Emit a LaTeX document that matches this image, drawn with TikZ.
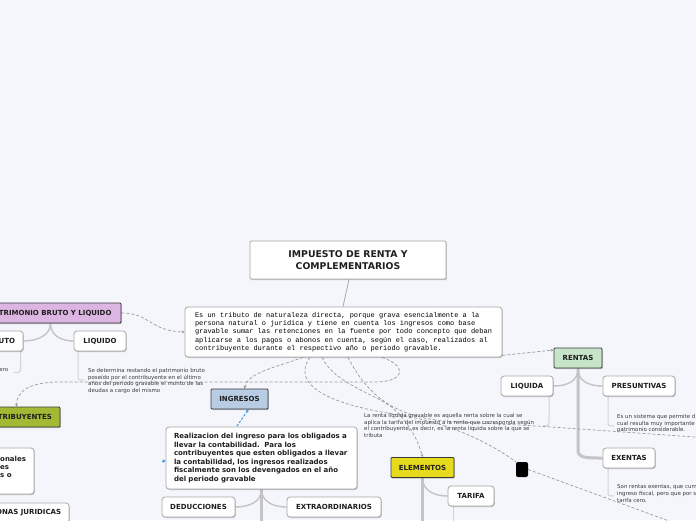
\documentclass[tikz,border=0pt]{standalone}
\usepackage{fontspec}
\setmainfont{DejaVu Sans}
\newfontfamily\monof{Liberation Mono}
\usetikzlibrary{arrows.meta,shadows}
\definecolor{bgc}{HTML}{F4F6FB}
\definecolor{boxgray}{HTML}{A8A8A8}
\definecolor{darkb}{HTML}{3A3A3A}
\definecolor{txt}{HTML}{1E1E1E}
\definecolor{notec}{HTML}{3A3A3A}
\definecolor{treeg}{HTML}{C4C4C4}
\definecolor{stemg}{HTML}{D2D2D2}
\definecolor{dashg}{HTML}{9A9A9A}
\definecolor{bluel}{HTML}{3D8EE0}
\definecolor{patrc}{HTML}{DDB5E2}
\definecolor{contc}{HTML}{A3B934}
\definecolor{ingc}{HTML}{B8CCE4}
\definecolor{rentc}{HTML}{C6E4C8}
\definecolor{elemc}{HTML}{E6DA1C}
\newcommand\lblfont{\bfseries\fontsize{7}{8.5}\selectfont}
\newcommand\notefont{\fontsize{5.45}{6.8}\selectfont}
\pgfdeclarelayer{back}
\pgfdeclarelayer{edges}
\pgfsetlayers{back,edges,main}
\begin{document}
\begin{tikzpicture}[x=1pt,y=-1pt,
  shad/.style={drop shadow={shadow xshift=0.8pt,shadow yshift=-1pt,opacity=0.22,fill=black}},
  box/.style={draw=boxgray,fill=white,rounded corners=3pt,line width=0.8pt,inner sep=0pt,font=\lblfont,text=txt,shad},
  tbox/.style={draw=boxgray,fill=white,rounded corners=1.2pt,line width=0.8pt,inner sep=0pt,align=center,font=\bfseries\fontsize{9.3}{11.5}\selectfont,text=txt,shad},
  cbox/.style={draw=darkb,rounded corners=1pt,line width=0.9pt,inner sep=0pt,font=\lblfont,text=txt,shad},
  note/.style={font=\notefont,text=notec,align=left,inner sep=0pt},
  branch/.style={draw=treeg,line width=1.4pt},
  trunk/.style={draw=treeg,line width=3pt},
  stem/.style={draw=stemg,line width=1pt},
  dlink/.style={draw=dashg,dash pattern=on 3pt off 2pt,line width=0.7pt},
  bdash/.style={draw=bluel,dash pattern=on 2.5pt off 1.5pt,line width=0.9pt},
  tip/.style={-{Stealth[length=3pt,width=3pt]}}
]
\begin{pgfonlayer}{back}
\fill[bgc] (0,0) rectangle (696,520);
\end{pgfonlayer}
\useasboundingbox (0,0) rectangle (696,520);
\clip (0,0) rectangle (696,520);

% ---------- nodes ----------
\node[tbox,minimum width=196pt,minimum height=38pt] (title) at (348,260) {IMPUESTO DE RENTA Y\\COMPLEMENTARIOS};
\node[box,minimum width=317pt,minimum height=50pt,inner xsep=9pt,align=left,text=black,
      font=\monof\fontsize{6.97}{8.33}\selectfont] (main) at (343.5,332)
 {Es un tributo de naturaleza directa, porque grava esencialmente a la\\
  persona natural o jurídica y tiene en cuenta los ingresos como base\\
  gravable sumar las retenciones en la fuente por todo concepto que deban\\
  aplicarse a los pagos o abonos en cuenta, según el caso, realizados al\\
  contribuyente durante el respectivo año o periodo gravable.};

\node[cbox,fill=patrc,minimum width=141pt,minimum height=20pt] (patr) at (50.5,313) {PATRIMONIO BRUTO Y LIQUIDO};
\node[box,minimum width=43pt,minimum height=20pt] (bruto) at (1.5,341) {BRUTO};
\node[box,minimum width=52pt,minimum height=20pt] (liquido) at (100,341) {LIQUIDO};
\node[note,anchor=north east] (nbruto) at (8.5,368) {ero};
\node[note,anchor=north west] (nliquido) at (88,368) {Se determina restando el patrimonio bruto\\poseído por el contribuyente en el último\\años del periodo gravable el monto de las\\deudas a cargo del mismo};

\node[cbox,fill=contc,minimum width=87pt,minimum height=20pt] (contrib) at (16.5,417) {CONTRIBUYENTES};
\node[box,minimum width=68pt,minimum height=46pt] (pnat) at (0,471) {};
\node[anchor=north west,inner sep=0pt,align=left,font=\bfseries\fontsize{7}{8.3}\selectfont,text=txt] (pnattxt) at (0,455.5) {onales\\es\\s o};
\node[box,minimum width=101pt,minimum height=20pt] (pjur) at (18.5,513) {PERSONAS JURIDICAS};

\node[cbox,fill=ingc,minimum width=57pt,minimum height=20pt] (ingresos) at (239.5,399) {INGRESOS};
\node[box,minimum width=191pt,minimum height=62pt,text width=175pt,inner xsep=8pt,align=left,
      font=\bfseries\fontsize{7}{8.6}\selectfont] (realiz) at (261.5,458)
 {Realizacion del ingreso para los obligados a\\
  llevar la contabilidad.\ \ Para los\\
  contribuyentes que esten obligados a llevar\\
  la contabilidad, los ingresos realizados\\
  fiscalmente son los devengados en el año\\
  del periodo gravable};
\node[box,minimum width=73pt,minimum height=20pt] (deduc) at (198.5,507) {DEDUCCIONES};
\node[box,minimum width=94pt,minimum height=20pt] (extra) at (334,507) {EXTRAORDINARIOS};

\node[note,anchor=north west] (nliquida) at (364,413) {La renta liquida gravable es aquella renta sobre la cual se\\aplica la tarifa del impuesto a la renta que corresponda según\\el contribuyente, es decir, es la renta liquida sobre la que se\\tributa};
\node[cbox,fill=elemc,minimum width=63pt,minimum height=20pt] (elementos) at (422.5,467.5) {ELEMENTOS};
\node[box,minimum width=46pt,minimum height=20pt] (tarifa) at (471,496) {TARIFA};

\node[cbox,fill=rentc,minimum width=48pt,minimum height=20pt] (rentas) at (578,358) {RENTAS};
\node[box,minimum width=52pt,minimum height=20pt] (liquida) at (527,386) {LIQUIDA};
\node[box,minimum width=72pt,minimum height=20pt] (presun) at (639,386) {PRESUNTIVAS};
\node[box,minimum width=52pt,minimum height=20pt] (exentas) at (629,458) {EXENTAS};
\node[note,anchor=north west] (npresun) at (617,414) {Es un sistema que permite d\\cual resulta muy importante\\patrimonio considerable.};
\node[note,anchor=north west] (nexentas) at (617,484.5) {Son rentas exentas, que cum\\ingreso fiscal, pero que por s\\tarifa cero.};

\node[fill=black,rounded corners=2pt,minimum width=12pt,minimum height=15pt,inner sep=0pt] (sq) at (522,469.5) {};

% ---------- free ends ----------
\coordinate (realizEnd) at (261.5,525);
\coordinate (elemEnd) at (422.5,525);
\coordinate (offR) at (702,437.5);
\coordinate (offSq) at (702,533);
\coordinate (bl) at (161.5,461);
\coordinate (sb1) at (20.5,351);
\coordinate (sb2) at (14,372.5);
\coordinate (sl1) at (78,351);
\coordinate (sl2) at (84,380);
\coordinate (sq1) at (549,396);
\coordinate (sq2) at (543,426);
\coordinate (sp1) at (608,396);
\coordinate (sp2) at (614,426);
\coordinate (se1) at (608,468);
\coordinate (se2) at (614,496);
\coordinate (st1) at (453,506);
\coordinate (st2) at (453,521);

\begin{pgfonlayer}{edges}
% solid
\draw[draw=boxgray,line width=0.8pt] (title.south) ++(1,0) -- ([xshift=-0.5pt]main.north);
\draw[branch] (patr.south) .. controls (50.5,336) and (36,341) .. (bruto.east);
\draw[branch] (patr.south) .. controls (50.5,336) and (62,341) .. (liquido.west);
\draw[trunk] (rentas.south) -- (578,450) .. controls (578,458) and (586,458) .. (exentas.west);
\draw[branch] (rentas.south) .. controls (578,382) and (566,386) .. (liquida.east);
\draw[branch] (rentas.south) .. controls (578,382) and (590,386) .. (presun.west);
\draw[trunk] (realiz.south) -- (realizEnd);
\draw[branch] (realiz.south) .. controls (261.5,502) and (249,507) .. (deduc.east);
\draw[branch] (realiz.south) .. controls (261.5,502) and (274,507) .. (extra.west);
\draw[trunk] (elementos.south) -- (elemEnd);
\draw[branch] (elementos.south) .. controls (422.5,491) and (435,496) .. (tarifa.west);
% stems
\draw[stem] (sb1) -- (20.5,367) .. controls (20.5,372.5) .. (sb2);
\draw[stem] (sl1) -- (78,375) .. controls (78,380) .. (sl2);
\draw[stem] (sq1) -- (549,421) .. controls (549,426) .. (sq2);
\draw[stem] (sp1) -- (608,421) .. controls (608,426) .. (sp2);
\draw[stem] (se1) -- (608,491) .. controls (608,496) .. (se2);
\draw[stem] (st1) -- (st2);
% dashed
\draw[dlink,tip] (patr.east) .. controls (150,313) and (150,331) .. (main.west);
\draw[dlink,tip] ([xshift=38.5pt]main.south) .. controls (408,366) and (405,382) .. (375,382) -- (60,382) .. controls (28,382) and (16.5,392) .. (contrib.north);
\draw[dlink,tip] ([xshift=-40.5pt]main.south) .. controls (280,366) and (248,372) .. ([xshift=5pt]ingresos.north);
\draw[dlink] ([xshift=-33.5pt]main.south) .. controls (290,385) and (330,405) .. (400,415) .. controls (460,425) and (500,450) .. (sq.north west);
\draw[dlink,tip] ([xshift=-21.5pt]main.south) .. controls (335,385) and (380,395) .. (395,410) .. controls (410,425) and (418,440) .. (elementos.north);
\draw[dlink] ([xshift=4.5pt]main.south) .. controls (370,400) and (400,420) .. (460,422) -- (537,426) -- (offR);
\draw[dlink,tip] ([yshift=2pt]main.south east) -- ([yshift=8pt]rentas.west);
\draw[dlink] (sq.east) -- (offSq);
\draw[bdash,{Stealth[length=3pt,width=3pt]}-] ([xshift=9pt]ingresos.south) -- ([xshift=-25pt]realiz.north);
\draw[draw=bluel,line width=0.9pt,-{Stealth[length=3pt,width=3.5pt]}] (bl) -- ([yshift=-3pt]realiz.west);
\end{pgfonlayer}
\end{tikzpicture}
\end{document}
